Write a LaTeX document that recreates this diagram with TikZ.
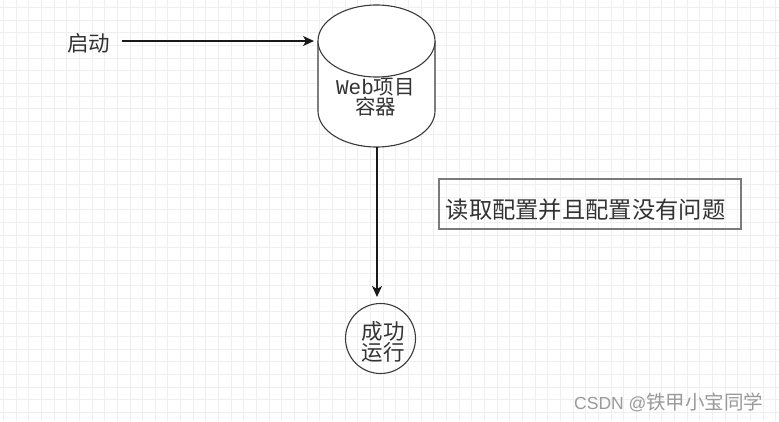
\documentclass[tikz,border=0pt]{standalone}
\usepackage{fontspec}
\setmainfont{Liberation Sans}
\newfontfamily\cjk{Noto Sans CJK SC}
\newfontfamily\webmono{Liberation Mono}
\usetikzlibrary{arrows.meta}
\definecolor{gridc}{HTML}{EFEFEF}
\definecolor{txt}{HTML}{333333}
\definecolor{wmc}{HTML}{9A9A9A}
\definecolor{boxc}{HTML}{7A7A7A}
\definecolor{shapec}{HTML}{3A3A3A}
\tikzset{
  gridline/.style={gridc, line width=0.8pt},
  arr/.style={draw=black!90, line width=1.3pt, -{Stealth[length=11pt,width=10pt,inset=3pt]}},
  shapeline/.style={draw=shapec, line width=1.1pt},
  cjktext/.style={text=txt, inner sep=0pt, font=\cjk\fontsize{20}{16}\selectfont, align=center},
}
\begin{document}
\begin{tikzpicture}[x=1pt,y=-1pt]
\fill[white] (0,0) rectangle (779,421);
\useasboundingbox (0,0) rectangle (779,421);
% grid
\foreach \i in {0,...,61} \draw[gridline] ({3.3+12.66*\i},0) -- ++(0,421);
\foreach \j in {0,...,33} \draw[gridline] (0,{7.3+12.66*\j}) -- ++(779,0);

% start label
\node[cjktext, font=\cjk\fontsize{21.5}{21.5}\selectfont] (qd) at (88.5,43) {启动};

% cylinder
\fill[white] (318,41) -- (318,111) arc[start angle=180, end angle=0, x radius=58.5, y radius=36] -- (435,41) -- cycle;
\draw[shapeline] (318,41) -- (318,111) arc[start angle=180, end angle=0, x radius=58.5, y radius=36] -- (435,41);
\draw[shapeline, fill=white] (376.5,41) ellipse[x radius=58.5, y radius=36];
\node[cjktext, font=\cjk\fontsize{20.5}{16}\selectfont] (cyl) at (375.5,97) {{\webmono\fontsize{21}{16}\selectfont Web}项目\\容器};
\coordinate (cylW) at (318,41);
\coordinate (cylS) at (377,147);

% result circle
\node[draw=shapec, line width=1.1pt, circle, minimum size=70pt, inner sep=0pt] (run) at (380.5,338.5) {};
\node[cjktext, font=\cjk\fontsize{21.5}{17}\selectfont] (runtxt) at (383,342) {成功\\运行};

% condition box
\node[draw=boxc, line width=2pt, minimum width=302pt, minimum height=50pt, inner sep=0pt] (cfg) at (590,204) {};
\node[cjktext, font=\cjk\fontsize{23.3}{23.3}\selectfont] (cfgtxt) at (585.5,210) {读取配置并且配置没有问题};

% connectors
\draw[arr, shorten <=12pt, shorten >=4pt] (qd.east |- cylW) -- (cylW);
\draw[arr, shorten >=6pt] (cylS) -- (cylS |- run.north);

% watermark
\node[text=wmc, inner sep=0pt, anchor=west] (wm) at (574,402) {\fontsize{17.5}{17.5}\selectfont CSDN @\cjk\fontsize{19.5}{19.5}\selectfont 铁甲小宝同学};
\end{tikzpicture}
\end{document}
